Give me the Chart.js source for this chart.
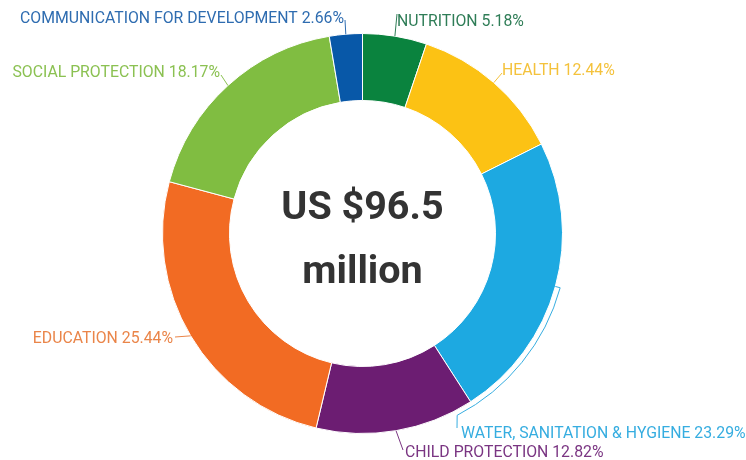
<!DOCTYPE html>
<html lang="en">
<head>
    <meta charset="UTF-8">
    <title>Funding by sector</title>
    <script src="https://cdn.jsdelivr.net/npm/chart.js"></script>
    <style>
        html, body { margin: 0; padding: 0; background: #fff; }
        #wrap { width: 746px; height: 460px; position: relative; }
    </style>
</head>
<body>
    <div id="wrap"><canvas id="chart"></canvas></div>

    <script>
        // data, clockwise from 12 o'clock
        const sectors = ['NUTRITION', 'HEALTH', 'WATER, SANITATION & HYGIENE', 'CHILD PROTECTION',
            'EDUCATION', 'SOCIAL PROTECTION', 'COMMUNICATION FOR DEVELOPMENT'];
        const shares = [5.18, 12.44, 23.29, 12.82, 25.44, 18.17, 2.66];
        const totalText = ['US $96.5', 'million'];

        const sliceColors = ['#0a833e', '#fcc214', '#1da9e1', '#6c1d72', '#f26b23', '#80bd41', '#0858a8'];
        const textColors = ['#2f7d57', '#f4c23c', '#36ade0', '#7a3582', '#ea8549', '#8bc152', '#2e6cb0'];

        // where each label sits (x, baseline, align) and where its leader line meets the text
        const placement = [
            { x: 397, y: 26, align: 'left', ex: 397, ey: 14 },
            { x: 502, y: 75, align: 'left', ex: 502, ey: 73 },
            { x: 461, y: 438, align: 'left', ex: 457, ey: 428, bracketTo: 62.5 },
            { x: 405, y: 457, align: 'left', ex: 403, ey: 450 },
            { x: 173, y: 343, align: 'right', ex: 175, ey: 337 },
            { x: 220, y: 77, align: 'right', ex: 221, ey: 75 },
            { x: 344, y: 23, align: 'right', ex: 345, ey: 20 }
        ];

        const outsideLabels = {
            id: 'outsideLabels',
            afterDraw(chart) {
                const ctx = chart.ctx;
                const arcs = chart.getDatasetMeta(0).data;
                ctx.save();
                arcs.forEach((arc, i) => {
                    const p = arc.getProps(['x', 'y', 'startAngle', 'endAngle', 'outerRadius'], true);
                    const mid = (p.startAngle + p.endAngle) / 2;
                    const pl = placement[i];
                    ctx.strokeStyle = textColors[i];
                    ctx.lineWidth = 1;
                    ctx.beginPath();
                    if (pl.bracketTo) {
                        const r = p.outerRadius + 5;
                        const end = pl.bracketTo * Math.PI / 180;
                        ctx.moveTo(p.x + (r - 5) * Math.cos(mid), p.y + (r - 5) * Math.sin(mid));
                        ctx.lineTo(p.x + r * Math.cos(mid), p.y + r * Math.sin(mid));
                        ctx.arc(p.x, p.y, r, mid, end);
                        ctx.lineTo(pl.ex, pl.ey);
                    } else {
                        const r = p.outerRadius;
                        ctx.moveTo(p.x + r * Math.cos(mid), p.y + r * Math.sin(mid));
                        ctx.lineTo(pl.ex, pl.ey);
                    }
                    ctx.stroke();

                    ctx.fillStyle = textColors[i];
                    ctx.font = '15.8px Roboto';
                    ctx.textAlign = pl.align;
                    ctx.textBaseline = 'alphabetic';
                    ctx.fillText(sectors[i] + ' ' + shares[i].toFixed(2) + '%', pl.x, pl.y);
                });

                // centre total
                const c = arcs[0];
                ctx.fillStyle = '#333333';
                ctx.textAlign = 'center';
                ctx.font = 'bold 39.5px Roboto';
                ctx.fillText(totalText[0], c.x, 219);
                ctx.fillText(totalText[1], c.x, 283);
                ctx.restore();
            }
        };

        new Chart(document.getElementById('chart'), {
            type: 'doughnut',
            data: {
                labels: sectors,
                datasets: [{
                    data: shares,
                    backgroundColor: sliceColors,
                    borderColor: '#ffffff',
                    borderWidth: 1,
                    hoverOffset: 0
                }]
            },
            options: {
                responsive: true,
                maintainAspectRatio: false,
                animation: false,
                cutout: '66.5%',
                layout: {
                    padding: { top: 33, bottom: 26, left: 0, right: 21 }
                },
                plugins: {
                    legend: { display: false },
                    tooltip: { enabled: false }
                }
            },
            plugins: [outsideLabels]
        });
    </script>
</body>
</html>
